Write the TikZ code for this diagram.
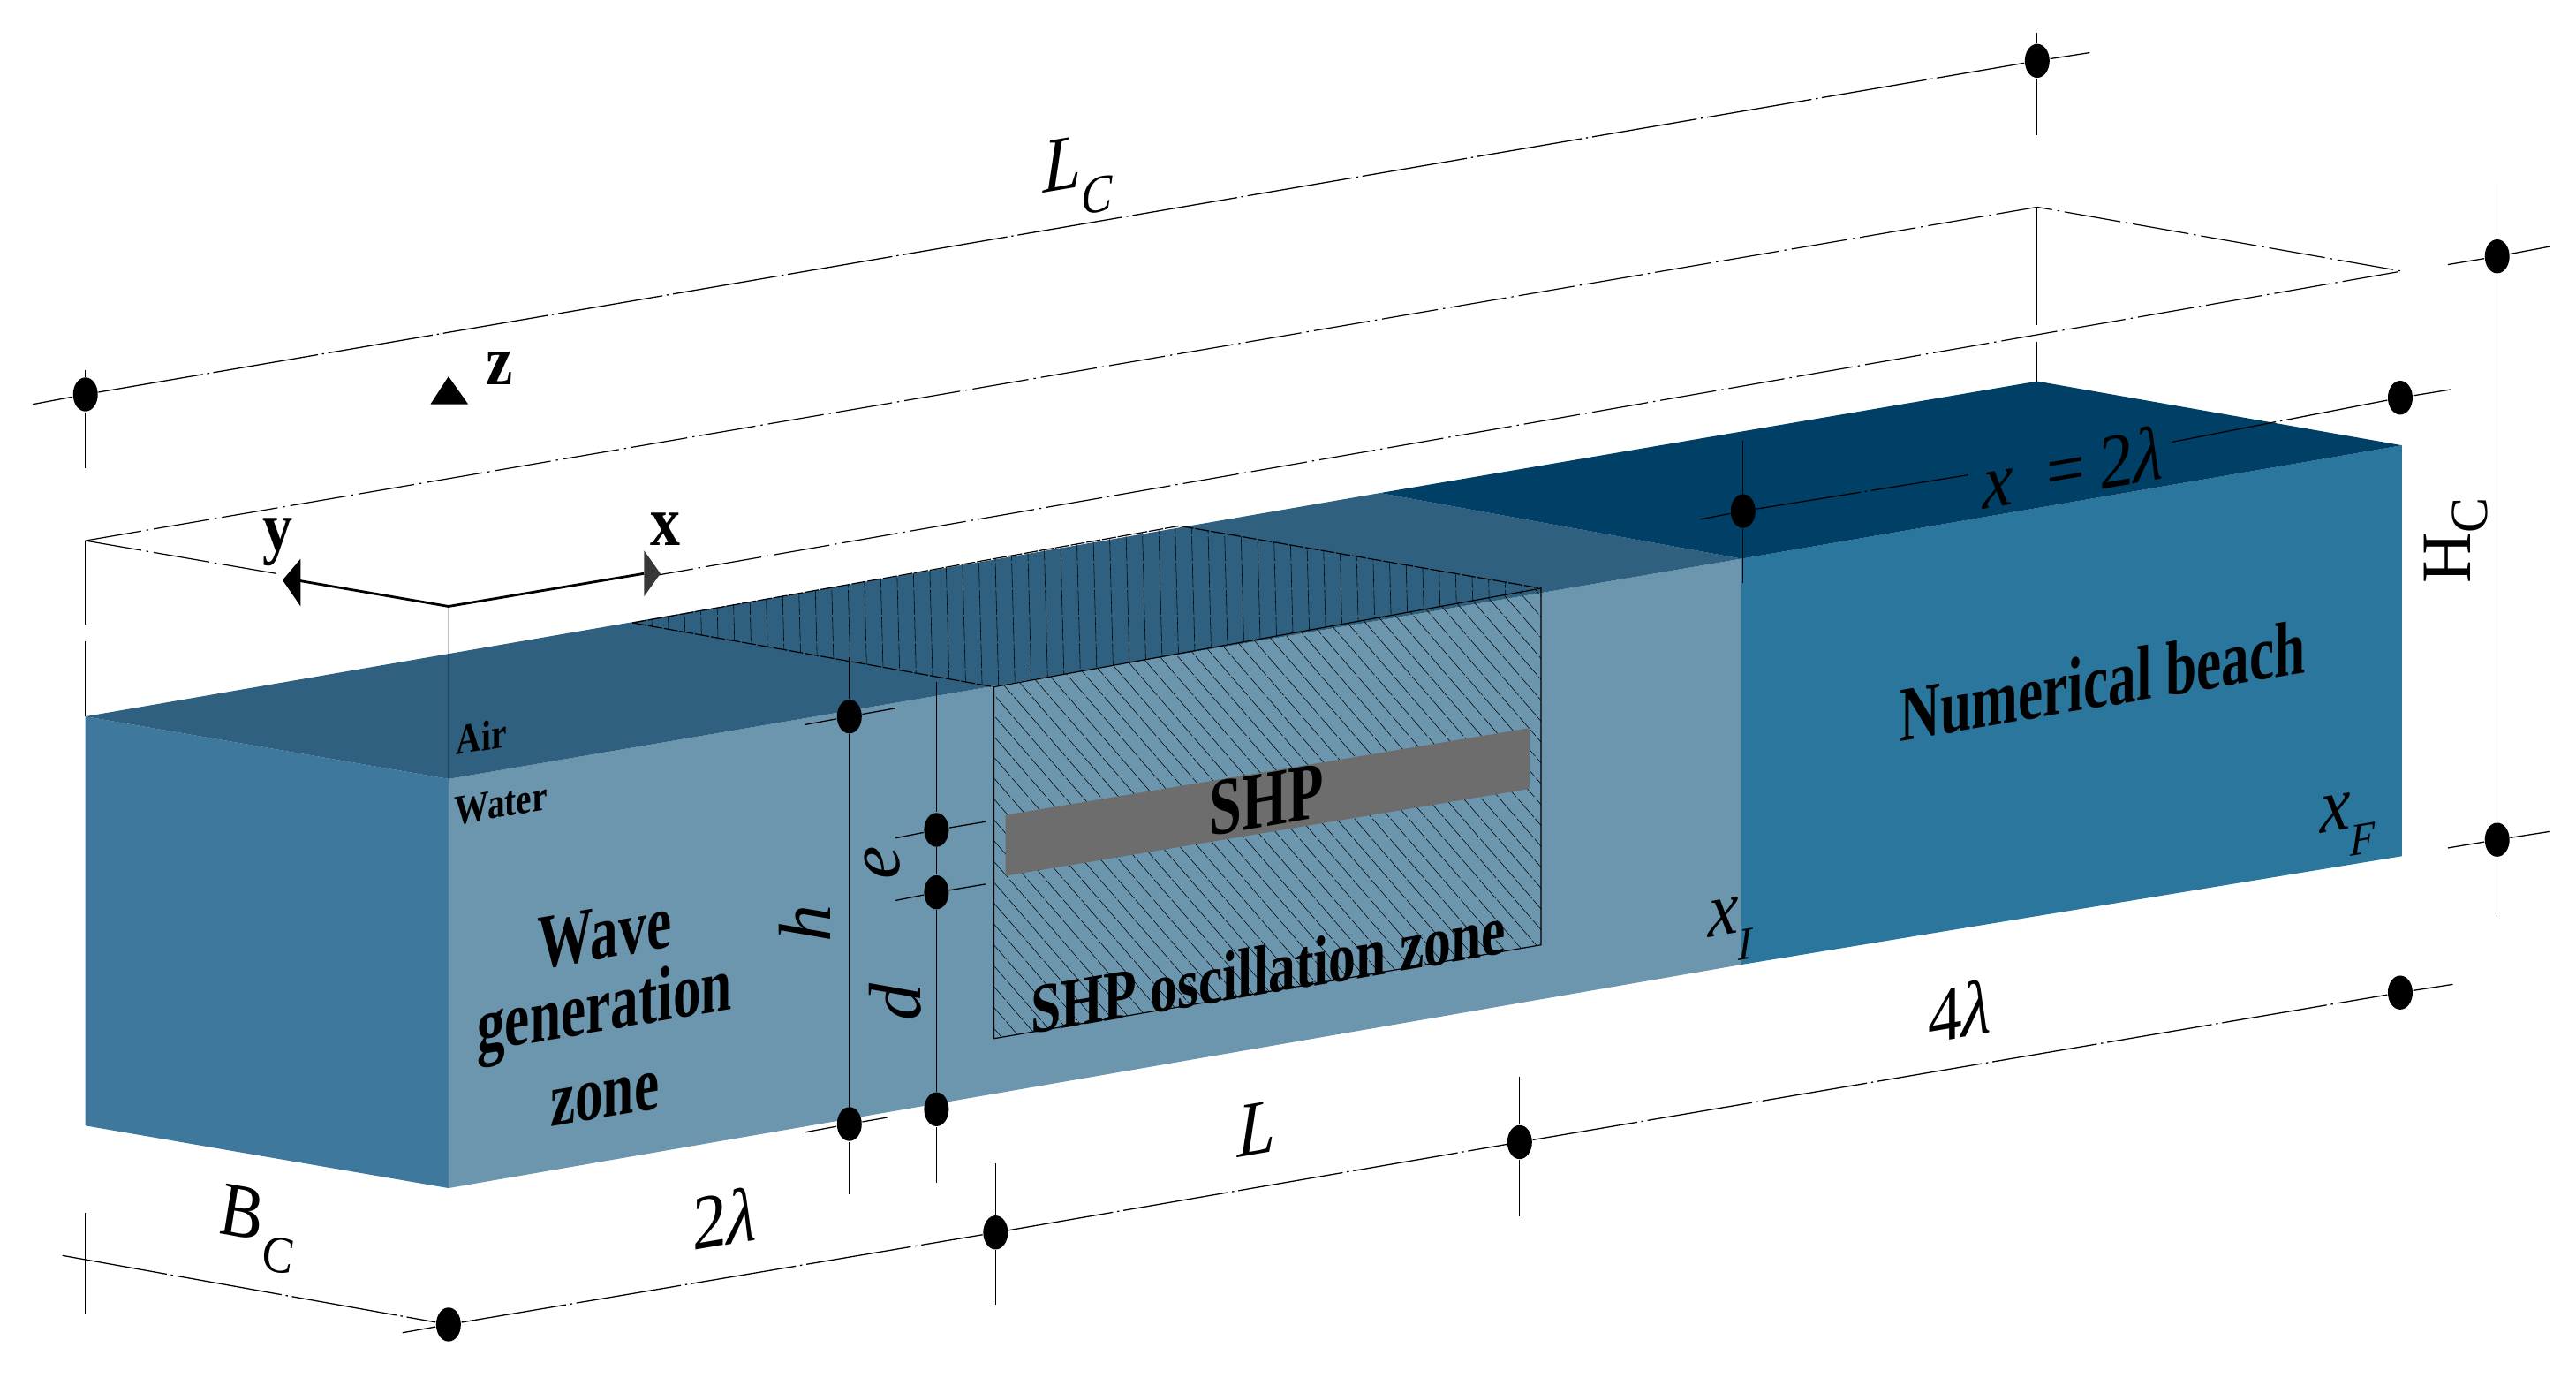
\documentclass[tikz,border=0pt]{standalone}
\usepackage{fontspec}
\setmainfont{Liberation Serif}
\usetikzlibrary{shapes.geometric}
\definecolor{leftface}{HTML}{3E799D}
\definecolor{frontface}{HTML}{6C95AE}
\definecolor{beachface}{HTML}{2A769C}
\definecolor{topair}{HTML}{2F607F}
\definecolor{topbeach}{HTML}{003F66}
\definecolor{shpgrey}{HTML}{6D6D6D}
\tikzset{
  x=0.46508pt,y=-0.46508pt,
  dimdot/.style={shape=ellipse,fill=black,draw=none,inner sep=0pt,minimum width=7pt,minimum height=9.6pt},
  dimline/.style={line width=.32pt,dash pattern=on 30pt off 1.2pt on .6pt off 1.2pt},
  boxline/.style={line width=.3pt,dash pattern=on 16pt off 1.5pt on .6pt off 1.5pt},
  plainline/.style={line width=.3pt},
  hatchline/.style={line width=.14pt,dash pattern=on 7pt off .6pt},
  zonelabel/.style={yslant=.17,inner sep=0pt,align=center},
  bigtext/.style={font=\bfseries\fontsize{22}{22}\selectfont,xscale=.72},
  mathlabel/.style={font=\itshape\fontsize{22}{22}\selectfont,yslant=.17,inner sep=0pt,xscale=.88},
  axislabel/.style={font=\bfseries\fontsize{20}{20}\selectfont,inner sep=0pt,xscale=.85},
  sidelabel/.style={font=\itshape\fontsize{21}{21}\selectfont,rotate=90,inner sep=0pt},
}
\begin{document}
\begin{tikzpicture}
\useasboundingbox (0,0) rectangle (1568,838.54);
% corner points
\coordinate (A) at (52,436);
\coordinate (B) at (273,474);
\coordinate (C) at (273,723);
\coordinate (D) at (52,685);
\coordinate (E) at (1462,271);
\coordinate (F) at (1462,521);
\coordinate (G) at (1240,232);
\coordinate (I1) at (1060,340);
\coordinate (I2) at (1060,587);
\coordinate (I3) at (840,300);
\coordinate (T1) at (385,379);
\coordinate (T2) at (605,418);
\coordinate (T3) at (938,358);
\coordinate (T4) at (718,320);
\coordinate (Z1) at (605,632);
\coordinate (Z2) at (938,575);
% faces
\fill[leftface] (A)--(B)--(C)--(D)--cycle;
\fill[frontface] (B)--(I1)--(I2)--(C)--cycle;
\fill[beachface] (I1)--(E)--(F)--(I2)--cycle;
\fill[topair] (A)--(B)--(I1)--(I3)--cycle;
\fill[topbeach] (I3)--(I1)--(E)--(G)--cycle;
% hatching
\begin{scope}
\clip (T1)--(T2)--(T3)--(T4)--cycle;
\foreach \i in {385,395,...,940} \draw[hatchline] (\i,310)--(\i+3,425);
\end{scope}
\begin{scope}
\clip (T2)--(T3)--(Z2)--(Z1)--cycle;
\foreach \i in {300,311,...,960} \draw[hatchline] (\i,350)--(\i+260,650);
\end{scope}
\draw[plainline,dash pattern=on 4pt off .5pt] (T1)--(T2) (T4)--(T3) (T1)--(T4);
\draw[plainline] (T2)--(T3)--(Z2)--(Z1)--cycle;
% SHP
\fill[shpgrey] (612,496)--(931,443)--(931,480)--(612,533)--cycle;
\node[zonelabel,font=\bfseries\fontsize{23}{23}\selectfont,xscale=.72] (shp) at (771,487) {SHP};
\node[zonelabel,font=\bfseries\fontsize{20}{20}\selectfont,xscale=.77] (osc) at (772,590) {SHP oscillation zone};
\node[zonelabel,bigtext] (wave) at (368,568) {Wave};
\node[zonelabel,bigtext] (gen) at (368,616) {generation};
\node[zonelabel,bigtext] (zone) at (368,669) {zone};
\node[zonelabel,bigtext] (beach) at (1280,414) {Numerical beach};
\node[zonelabel,font=\bfseries\fontsize{12}{12}\selectfont,xscale=.82] (air) at (293,448) {Air};
\node[zonelabel,font=\bfseries\fontsize{12}{12}\selectfont,xscale=.82] (water) at (305,489) {Water};
% dots
\node[dimdot] (d1) at (52,240) {};
\node[dimdot] (d2) at (1240,37) {};
\node[dimdot] (d3) at (1520,156) {};
\node[dimdot] (d4) at (1461,242) {};
\node[dimdot] (d5) at (1520,511) {};
\node[dimdot] (d6) at (1061,311) {};
\node[dimdot] (d7) at (517,436) {};
\node[dimdot] (d8) at (517,684) {};
\node[dimdot] (d9) at (570,505) {};
\node[dimdot] (d10) at (570,543) {};
\node[dimdot] (d11) at (570,675) {};
\node[dimdot] (d12) at (606,750) {};
\node[dimdot] (d13) at (925,695) {};
\node[dimdot] (d14) at (1461,604) {};
\node[dimdot] (d15) at (273,806) {};
% free ends
\coordinate (LCa) at (20,246);
\coordinate (LCb) at (1272,32);
\coordinate (TopL) at (52,329);
\coordinate (TopB) at (1240,126);
\coordinate (TopR) at (1462,165);
\coordinate (TipY) at (168,349);
\coordinate (TipX) at (400,350);
% dimension lines
\draw[dimline] (LCa)--(d1)--(d2)--(LCb);
\draw[plainline] (52,225)--(d1)--(52,285);
\draw[plainline] (1240,20)--(d2)--(1240,82);
\draw[boxline] (TopL)--(TopB)--(TopR)--(TipX);
\draw[boxline] (TopL)--(TipY);
\draw[plainline] (TopL)--(52,380) (52,390)--(A);
\draw[plainline] (TopB)--(1240,198) (1240,208)--(G);
\draw[dimline] (1035,316)--(d6)--(1198,289);
\draw[dimline] (1322,269)--(d4)--(1492,237);
\draw[plainline] (1061,268)--(d6)--(1061,355);
\draw[plainline,opacity=.25] (273,368)--(B);
\draw[plainline] (517,400)--(d7)--(d8)--(517,727);
\draw[plainline] (570,415)--(d9)--(d10)--(d11)--(570,720);
\draw[dimline] (490,441)--(d7)--(545,431);
\draw[dimline] (490,689)--(d8)--(540,680);
\draw[dimline] (545,510)--(d9)--(600,500);
\draw[dimline] (545,548)--(d10)--(600,538);
\draw[plainline] (606,708)--(d12)--(606,794);
\draw[plainline] (925,655)--(d13)--(925,740);
\draw[dimline] (245,811)--(d15)--(d12)--(d13)--(d14)--(1493,599);
\draw[dimline] (38,764)--(d15);
\draw[plainline] (52,738)--(52,800);
\draw[plainline] (1520,112)--(d3)--(d5)--(1520,555);
\draw[dimline] (1490,161)--(d3)--(1552,150);
\draw[dimline] (1490,516)--(d5)--(1552,506);
% axes
\coordinate (O) at (273,369);
\coordinate (AY) at (180,353);
\coordinate (AX) at (392,349);
\draw[line width=.7pt] (AY)--(O)--(AX);
\fill[black] (172,353)--(183,340)--(183,369)--cycle;
\fill[black!78] (402,349)--(392,335)--(392,363)--cycle;
\fill[black] (273,229)--(262,246)--(285,246)--cycle;
\node[axislabel] (ly) at (169,330) {y};
\node[axislabel] (lx) at (405,322) {x};
\node[axislabel] (lz) at (304,224) {z};
% math labels
\node[mathlabel] (lc) at (656,107) {L\raisebox{-.8ex}{\fontsize{15}{15}\selectfont C}};
\node[mathlabel] (xe) at (1262,284) {x\,\ =\,{\upshape 2}λ};
\node[mathlabel] (four) at (1193,615) {{\upshape 4}λ};
\node[mathlabel] (two) at (441,741) {{\upshape 2}λ};
\node[mathlabel] (ll) at (765,687) {L};
\node[font=\itshape\fontsize{22}{22}\selectfont,yslant=-.17,inner sep=0pt,xscale=.88] (bc) at (156,748) {B\raisebox{-.8ex}{\fontsize{15}{15}\selectfont C}};
\node[mathlabel] (xi) at (1053,566) {x\raisebox{-.8ex}{\fontsize{13}{13}\selectfont I}};
\node[mathlabel] (xf) at (1429,502) {x\raisebox{-.8ex}{\fontsize{13}{13}\selectfont F}};
\node[sidelabel] (lh) at (490,562) {h};
\node[sidelabel] (le) at (537,525) {e};
\node[sidelabel] (ld) at (545,610) {d};
\node[sidelabel,font=\fontsize{20}{20}\selectfont] (hc) at (1495,329) {H\raisebox{-.5ex}{\fontsize{15}{15}\selectfont C}};
\end{tikzpicture}
\end{document}
